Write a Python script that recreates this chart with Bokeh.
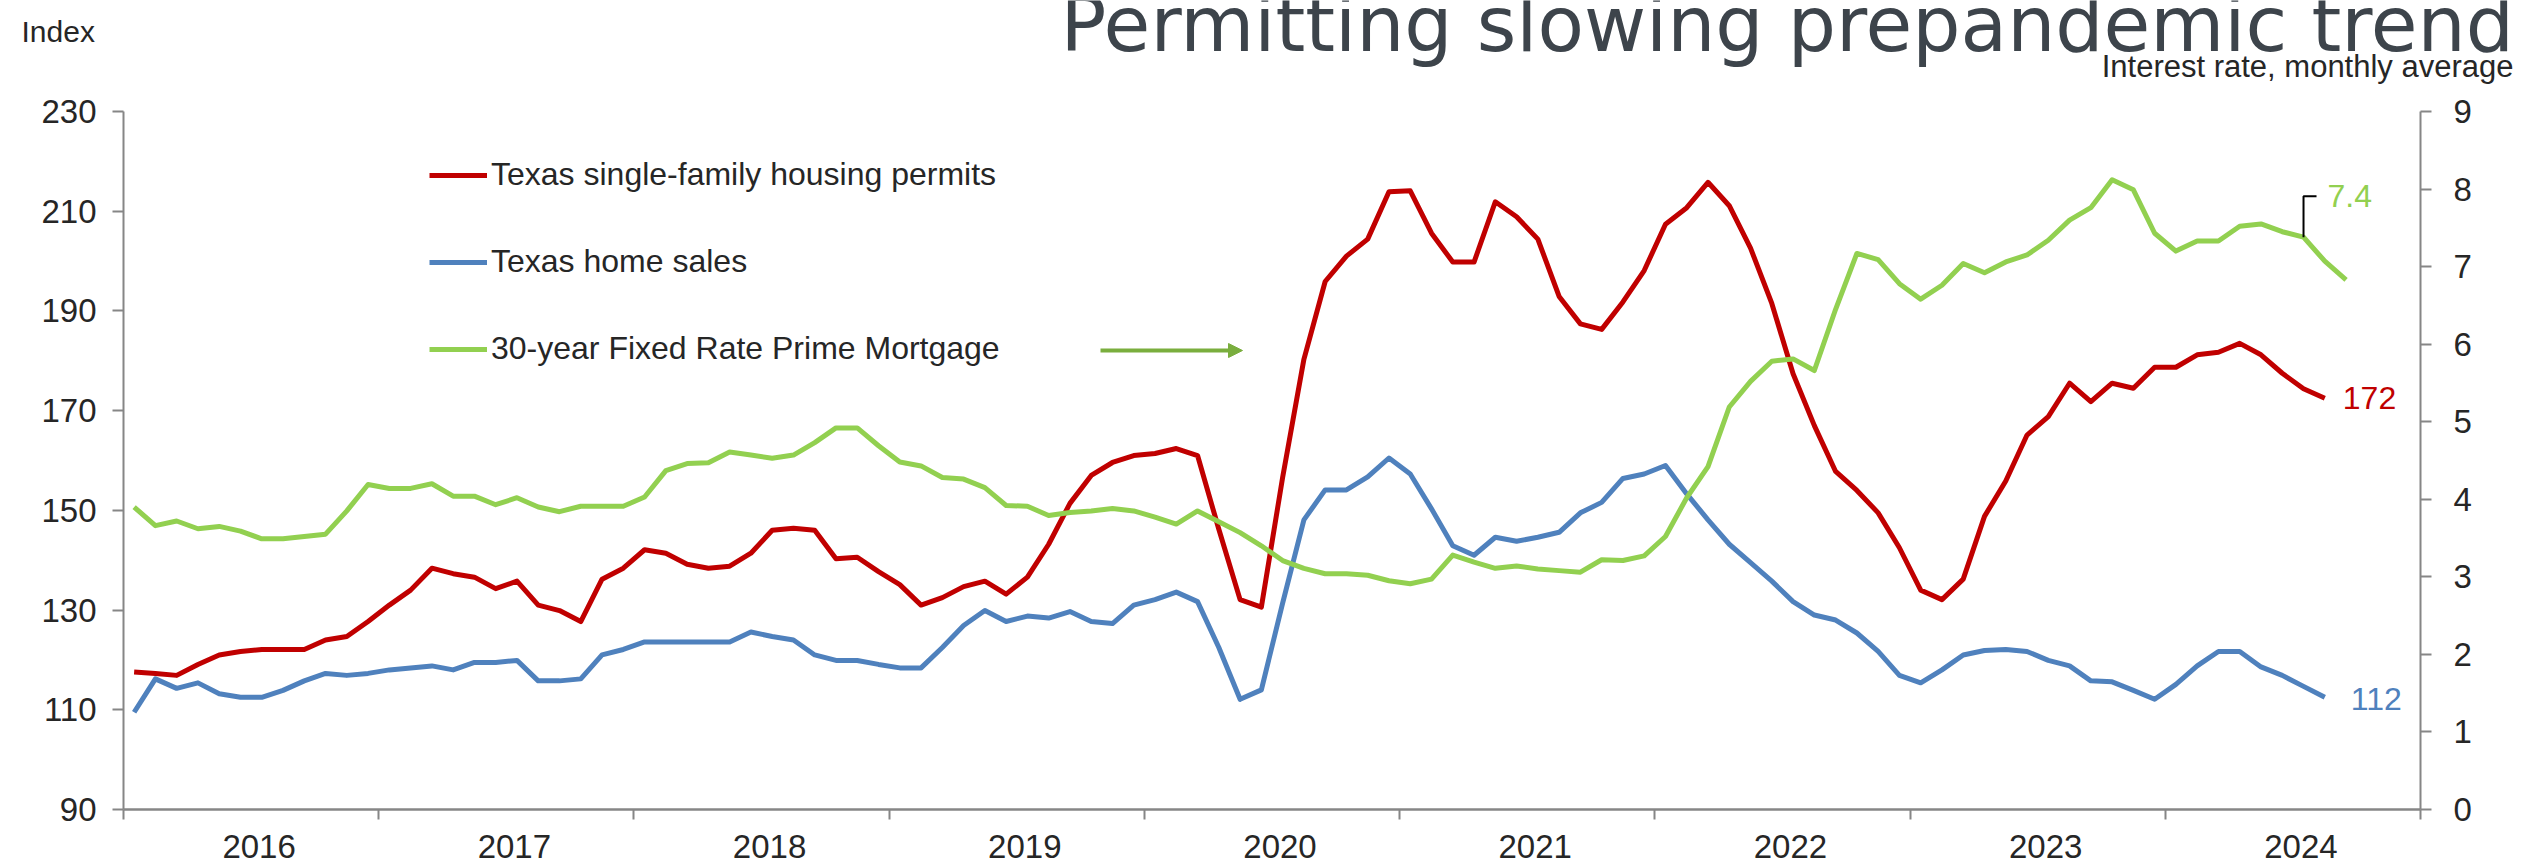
from bokeh.plotting import figure
from bokeh.layouts import column
from bokeh.models import (LinearAxis, Range1d, FixedTicker, Legend, LegendItem,
                          Arrow, NormalHead)
from bokeh.embed import file_html
from bokeh.resources import INLINE
from bokeh.core.properties import value

# ---------------- data (monthly, Jan 2016 onward) ----------------
years = [2016, 2017, 2018, 2019, 2020, 2021, 2022, 2023, 2024]
year_labels = [str(y) for y in years]

permits = [
    117.6, 117.3, 116.9, 119.1, 121.0, 121.7, 122.1, 122.1, 122.1, 124.0, 124.7, 127.7,
    131.0, 134.0, 138.4, 137.3, 136.6, 134.3, 135.8, 131.0, 129.9, 127.7, 136.2, 138.4,
    142.1, 141.4, 139.2, 138.4, 138.8, 141.4, 146.0, 146.4, 146.0, 140.3, 140.6, 137.7,
    135.1, 131.0, 132.5, 134.7, 135.8, 133.2, 136.6, 143.2, 151.4, 157.0, 159.6, 161.0,
    161.4, 162.4, 161.0, 146.2, 132.1, 130.6, 156.6, 180.3, 195.9, 201.0, 204.4, 213.9,
    214.1, 205.6, 199.8, 199.8, 211.9, 208.9, 204.4, 192.9, 187.4, 186.3, 191.8, 198.1,
    207.4, 210.7, 215.8, 211.1, 202.6, 191.5, 177.4, 167.0, 157.8, 154.0, 149.5, 142.5,
    134.0, 132.1, 136.2, 148.8, 155.9, 165.1, 168.8, 175.5, 171.8, 175.5, 174.5, 178.7,
    178.7, 181.2, 181.7, 183.5, 181.2, 177.5, 174.4, 172.5,
]
home_sales = [
    109.5, 116.2, 114.3, 115.4, 113.2, 112.5, 112.5, 113.9, 115.8, 117.3, 116.9, 117.3,
    118.0, 118.4, 118.8, 118.0, 119.5, 119.5, 119.9, 115.8, 115.8, 116.2, 121.0, 122.1,
    123.6, 123.6, 123.6, 123.6, 123.6, 125.6, 124.7, 124.0, 121.0, 119.9, 119.9, 119.1,
    118.4, 118.4, 122.5, 126.9, 129.9, 127.7, 128.8, 128.4, 129.7, 127.7, 127.3, 131.0,
    132.1, 133.6, 131.7, 122.5, 112.1, 114.0, 131.4, 148.1, 154.1, 154.1, 156.7, 160.5,
    157.3, 150.3, 142.9, 141.0, 144.6, 143.8, 144.6, 145.6, 149.5, 151.6, 156.4, 157.3,
    159.0, 153.3, 148.1, 143.2, 139.5, 135.8, 131.7, 129.0, 128.0, 125.4, 121.7, 116.9,
    115.4, 118.0, 121.0, 121.9, 122.1, 121.7, 119.9, 118.8, 115.8, 115.6, 113.9, 112.1,
    115.1, 118.8, 121.7, 121.7, 118.6, 116.9, 114.7, 112.5,
]
mortgage_rate = [
    3.90, 3.66, 3.72, 3.62, 3.65, 3.59, 3.49, 3.49, 3.52, 3.55, 3.85, 4.19,
    4.14, 4.14, 4.20, 4.04, 4.04, 3.93, 4.02, 3.90, 3.84, 3.91, 3.91, 3.91,
    4.03, 4.37, 4.46, 4.47, 4.61, 4.57, 4.53, 4.57, 4.73, 4.92, 4.92, 4.69,
    4.48, 4.43, 4.28, 4.26, 4.15, 3.92, 3.91, 3.79, 3.83, 3.85, 3.88, 3.85,
    3.77, 3.68, 3.85, 3.71, 3.57, 3.40, 3.21, 3.11, 3.04, 3.04, 3.02, 2.95,
    2.91, 2.97, 3.28, 3.19, 3.11, 3.14, 3.10, 3.08, 3.06, 3.22, 3.21, 3.27,
    3.52, 4.02, 4.42, 5.19, 5.52, 5.78, 5.81, 5.66, 6.45, 7.17, 7.09, 6.78,
    6.58, 6.76, 7.04, 6.92, 7.06, 7.15, 7.34, 7.60, 7.76, 8.12, 7.99, 7.43,
    7.20, 7.33, 7.33, 7.52, 7.55, 7.45, 7.38, 7.07, 6.83,
]
rate_callout_index = 102   # month carrying the "7.4" call-out

left_ticks = [90, 110, 130, 150, 170, 190, 210, 230]
right_ticks = [0, 1, 2, 3, 4, 5, 6, 7, 8, 9]

series_names = ["Texas single-family housing permits", "Texas home sales",
                "30-year Fixed Rate Prime Mortgage"]
title_text = "Permitting slowing prepandemic trend"
left_unit = "Index"
right_unit = "Interest rate, monthly average"

RED, BLUE, GREEN = "#C00000", "#4F81BD", "#92D050"
ARROW = "#7AAE3E"
AXIS = "#868686"
TXT = "#262626"
FONT = "Liberation Sans"

W = 2547
TOP_H = 91          # strip holding the title texts
BOT_H = 38          # strip holding the year labels
MAIN_H = 865 - TOP_H - BOT_H
BL, BR = 123, 127   # left / right borders of the plotting frame


def month_x(n):
    return [years[0] + (i + 0.5) / 12.0 for i in range(n)]


x_pm = month_x(len(permits))
x_hs = month_x(len(home_sales))
x_mr = month_x(len(mortgage_rate))

x_range = Range1d(years[0], years[-1] + 1)

# ---------------- top strip: titles ----------------
top = figure(width=W, height=TOP_H, output_backend="svg", toolbar_location=None,
             x_range=Range1d(0, W), y_range=Range1d(TOP_H, 0),
             x_axis_type=None, y_axis_type=None, frame_align=False,
             min_border_left=0, min_border_right=0, min_border_top=0, min_border_bottom=0)
top.grid.visible = False
top.outline_line_color = None
top.text(x=[1060], y=[24], text=[title_text], text_font=value("DejaVu Sans"),
         text_font_size="76px", text_color="#3D444B", text_baseline="alphabetic")
top.text(x=[21], y=[31], text=[left_unit], text_font=value(FONT),
         text_font_size="30px", text_color=TXT, text_baseline="alphabetic")
top.text(x=[2513], y=[66], text=[right_unit], text_font=value(FONT),
         text_font_size="31px", text_color=TXT, text_baseline="alphabetic",
         text_align="right")

# ---------------- main chart ----------------
p = figure(width=W, height=MAIN_H, output_backend="svg", toolbar_location=None,
           x_range=x_range, y_range=Range1d(left_ticks[0], left_ticks[-1]),
           frame_align=False,
           min_border_left=BL, min_border_right=BR,
           min_border_top=111 - TOP_H, min_border_bottom=MAIN_H - (809 - TOP_H))
p.extra_y_ranges = {"rate": Range1d(right_ticks[0], right_ticks[-1])}
p.xgrid.visible = False
p.ygrid.visible = False
p.outline_line_color = None

xa = p.xaxis[0]
xa.ticker = FixedTicker(ticks=[y + 0.5 for y in years],
                        minor_ticks=[y for y in years] + [years[-1] + 1])
xa.major_label_text_font_size = "1px"
xa.major_label_text_alpha = 0
xa.major_label_standoff = 0
xa.major_tick_line_color = None
xa.major_tick_out = 0
xa.major_tick_in = 0
xa.minor_tick_line_color = AXIS
xa.minor_tick_line_width = 2
xa.minor_tick_out = 10
xa.minor_tick_in = 0
xa.axis_line_color = AXIS
xa.axis_line_width = 2.5

ya = p.yaxis[0]
ya.ticker = FixedTicker(ticks=left_ticks)
ra = LinearAxis(y_range_name="rate", ticker=FixedTicker(ticks=right_ticks))
p.add_layout(ra, "right")
for ax, so in ((ya, 16), (ra, 22)):
    ax.axis_line_color = AXIS
    ax.axis_line_width = 2
    ax.major_tick_line_color = AXIS
    ax.major_tick_line_width = 2
    ax.major_tick_out = 11
    ax.major_tick_in = 0
    ax.minor_tick_line_color = None
    ax.major_label_standoff = so
    ax.major_label_text_font = FONT
    ax.major_label_text_font_size = "33px"
    ax.major_label_text_color = TXT

r_pm = p.line(x_pm, permits, line_color=RED, line_width=5, line_join="round")
r_hs = p.line(x_hs, home_sales, line_color=BLUE, line_width=5, line_join="round")
r_mr = p.line(x_mr, mortgage_rate, line_color=GREEN, line_width=5, line_join="round",
              y_range_name="rate")

legend = Legend(items=[LegendItem(label=series_names[0], renderers=[r_pm]),
                       LegendItem(label=series_names[1], renderers=[r_hs]),
                       LegendItem(label=series_names[2], renderers=[r_mr])],
                location=(306, 442), orientation="vertical",
                padding=0, margin=0, spacing=50, glyph_width=58, glyph_height=36,
                label_height=36, label_standoff=4,
                label_text_font=FONT, label_text_font_size="32px", label_text_color=TXT,
                border_line_color=None, background_fill_alpha=0)
p.add_layout(legend, "center")

p.add_layout(Arrow(end=NormalHead(size=14, fill_color=ARROW, line_color=ARROW),
                   x_start=977, y_start=459, x_end=1119, y_end=459,
                   start_units="screen", end_units="screen",
                   line_color=ARROW, line_width=4))

# end-of-series value labels
p.text(x=[x_pm[-1]], y=[permits[-1]], text=[f"{permits[-1]:.0f}"],
       text_font=value(FONT), text_font_size="32px", text_color=RED,
       text_baseline="middle", text_align="left", x_offset=18)
p.text(x=[x_hs[-1]], y=[home_sales[-1]], text=[f"{home_sales[-1]:.0f}"],
       text_font=value(FONT), text_font_size="32px", text_color=BLUE,
       text_baseline="middle", text_align="left", x_offset=26, y_offset=2)

# call-out for the mortgage rate
px_per_year = (W - BL - BR) / float(len(years))
px_per_rate = 698 / float(right_ticks[-1])
cx = x_mr[rate_callout_index]
cy = mortgage_rate[rate_callout_index]
up = 41 / px_per_rate
right = 13 / px_per_year
p.line([cx, cx, cx + right], [cy, cy + up, cy + up], line_color="black",
       line_width=2, y_range_name="rate")
p.text(x=[cx], y=[cy + up], text=[f"{cy:.1f}"], y_range_name="rate",
       text_font=value(FONT), text_font_size="32px", text_color=GREEN,
       text_baseline="middle", text_align="left", x_offset=24)

# ---------------- bottom strip: year labels on the shared x scale ----------------
bot = figure(width=W, height=BOT_H, output_backend="svg", toolbar_location=None,
             x_range=x_range, y_range=Range1d(BOT_H, 0),
             x_axis_type=None, y_axis_type=None, frame_align=False,
             min_border_left=BL, min_border_right=BR, min_border_top=0, min_border_bottom=0)
bot.grid.visible = False
bot.outline_line_color = None
bot.text(x=[y + 0.5 for y in years], y=[19] * len(years), text=year_labels,
         text_font=value(FONT), text_font_size="33px", text_color=TXT,
         text_align="center", text_baseline="alphabetic", x_offset=8)

layout = column(top, p, bot, spacing=0)
open("out.html", "w").write(file_html(layout, INLINE))
